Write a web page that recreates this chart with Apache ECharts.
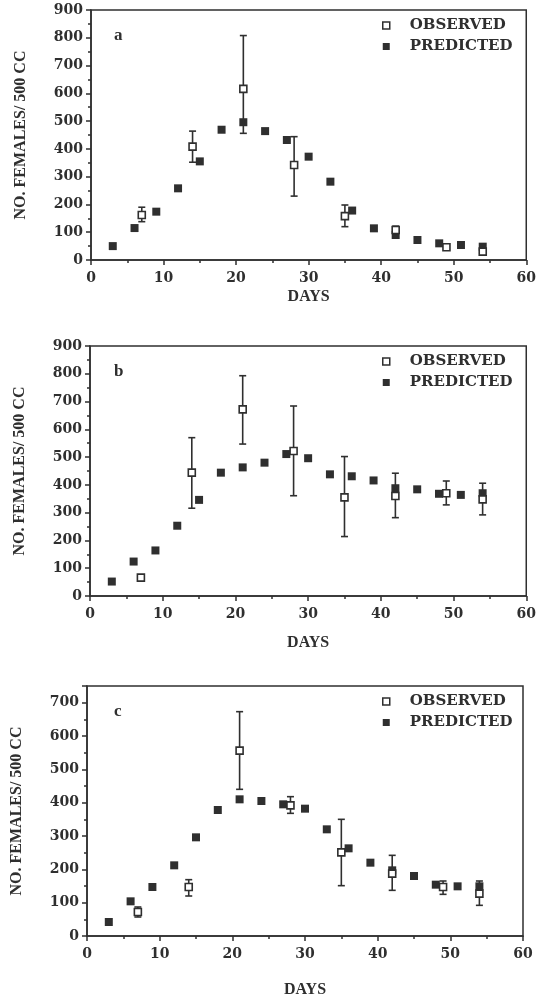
<!DOCTYPE html>
<html>
<head>
<meta charset="utf-8">
<script src="https://cdn.jsdelivr.net/npm/echarts@6/dist/echarts.min.js"></script>
<style>
  html, body { margin: 0; padding: 0; background: #fff; }
  #chart { width: 539px; height: 1003px; }
</style>
</head>
<body>
<div id="chart"></div>
<script>
// model days (predicted) and sampling days (observed)
const predDays = [3, 6, 9, 12, 15, 18, 21, 24, 27, 30, 33, 36, 39, 42, 45, 48, 51, 54];
const obsDays = [7, 14, 21, 28, 35, 42, 49, 54];

// panel a
const predA = [50, 115, 174, 258, 355, 469, 496, 464, 432, 372, 282, 178, 114, 90, 72, 60, 54, 48];
const obsA = [162, 408, 616, 342, 158, 108, 46, 30];
const lowA = [138, 352, 456, 230, 120, 95, null, null];
const highA = [190, 464, 808, 444, 198, 122, null, null];

// panel b
const predB = [52, 124, 164, 253, 346, 444, 463, 480, 511, 496, 438, 431, 416, 388, 384, 368, 364, 370];
const obsB = [66, 444, 672, 522, 355, 360, 370, 348];
const lowB = [null, 316, 547, 361, 214, 282, 328, 292];
const highB = [null, 570, 793, 684, 502, 442, 414, 406];

// panel c
const predC = [42, 104, 147, 212, 296, 378, 410, 405, 395, 382, 320, 263, 220, 197, 180, 154, 149, 149];
const obsC = [72, 147, 556, 392, 251, 187, 147, 127];
const lowC = [57, 120, 440, 368, 151, 137, 125, 92];
const highC = [87, 169, 673, 418, 350, 242, 165, 165];

const panelLabels = ['a', 'b', 'c'];
const yMax = [900, 900, 750];

const ink = '#2f2f2f';
const tickFont = { fontFamily: 'DejaVu Serif', fontWeight: 'bold', fontSize: 14, color: ink };

const grids = [
  { left: 91, top: 10, right: 12, height: 250 },
  { left: 90, top: 346, right: 12, height: 250 },
  { left: 87, top: 686, right: 16, height: 250 }
];
const daysGap = [29, 39, 46];

const panels = [
  { pred: predA, obs: obsA, low: lowA, high: highA },
  { pred: predB, obs: obsB, low: lowB, high: highB },
  { pred: predC, obs: obsC, low: lowC, high: highC }
];

const pairs = (xs, ys) => xs.map((x, i) => [x, ys[i]]);

const errRender = (params, api) => {
  const x = api.value(0);
  const lo = api.coord([x, api.value(1)]);
  const hi = api.coord([x, api.value(2)]);
  const cap = 3.5;
  const style = { stroke: ink, lineWidth: 1.6 };
  return {
    type: 'group',
    children: [
      { type: 'line', shape: { x1: lo[0], y1: lo[1], x2: hi[0], y2: hi[1] }, style },
      { type: 'line', shape: { x1: lo[0] - cap, y1: lo[1], x2: lo[0] + cap, y2: lo[1] }, style },
      { type: 'line', shape: { x1: hi[0] - cap, y1: hi[1], x2: hi[0] + cap, y2: hi[1] }, style }
    ]
  };
};

const option = {
  backgroundColor: '#fff',
  animation: false,
  grid: grids.map(g => ({ ...g, show: true, borderColor: ink, borderWidth: 1.5, backgroundColor: 'transparent' })),
  xAxis: grids.map((g, i) => ({
    gridIndex: i,
    type: 'value',
    min: 0,
    max: 60,
    interval: 10,
    name: 'DAYS',
    nameLocation: 'middle',
    nameGap: daysGap[i],
    nameTextStyle: { fontFamily: 'Liberation Serif', fontWeight: 'bold', fontSize: 16, color: ink },
    axisLine: { lineStyle: { color: ink, width: 1.5 } },
    axisTick: { inside: false, length: 5, lineStyle: { color: ink, width: 1.5 } },
    minorTick: { show: true, splitNumber: 2, length: 3, lineStyle: { color: ink, width: 1.5 } },
    splitLine: { show: false },
    axisLabel: { ...tickFont, margin: 11 }
  })),
  yAxis: grids.map((g, i) => ({
    gridIndex: i,
    type: 'value',
    min: 0,
    max: yMax[i],
    interval: 100,
    name: 'NO. FEMALES/ 500 CC',
    nameLocation: 'middle',
    nameGap: 62,
    nameTextStyle: { fontFamily: 'Liberation Serif', fontWeight: 'bold', fontSize: 16, color: ink },
    axisLine: { lineStyle: { color: ink, width: 1.5 } },
    axisTick: { inside: false, length: 5, lineStyle: { color: ink, width: 1.5 } },
    minorTick: { show: true, splitNumber: 2, length: 3, lineStyle: { color: ink, width: 1.5 } },
    splitLine: { show: false },
    axisLabel: { ...tickFont, margin: 8, showMaxLabel: yMax[i] % 100 === 0 }
  })),
  legend: grids.map(g => ({
    orient: 'vertical',
    left: 377,
    top: g.top + 3,
    itemWidth: 7,
    itemHeight: 7,
    itemGap: 6,
    icon: 'rect',
    data: [
      { name: 'OBSERVED', itemStyle: { color: '#fff', borderColor: ink, borderWidth: 1.5 } },
      { name: 'PREDICTED', itemStyle: { color: ink, borderWidth: 0 } }
    ],
    textStyle: { fontFamily: 'DejaVu Serif', fontWeight: 'bold', fontSize: 15, color: ink, padding: [0, 0, 0, 15] }
  })),
  graphic: grids.map((g, i) => ({
    type: 'text',
    left: 114,
    top: g.top + 17,
    style: { text: panelLabels[i], fontFamily: 'Liberation Serif', fontWeight: 'bold', fontSize: 17, fill: ink }
  })),
  series: []
};

panels.forEach((p, i) => {
  option.series.push({
    name: 'PREDICTED',
    type: 'scatter',
    xAxisIndex: i,
    yAxisIndex: i,
    symbol: 'rect',
    symbolSize: 8,
    itemStyle: { color: ink, opacity: 1 },
    data: pairs(predDays, p.pred),
    z: 2
  });
  option.series.push({
    name: 'OBSERVED error',
    type: 'custom',
    xAxisIndex: i,
    yAxisIndex: i,
    renderItem: errRender,
    data: obsDays.map((d, k) => [d, p.low[k], p.high[k]]).filter(r => r[1] != null),
    z: 3
  });
  option.series.push({
    name: 'OBSERVED',
    type: 'scatter',
    xAxisIndex: i,
    yAxisIndex: i,
    symbol: 'rect',
    symbolSize: 7,
    itemStyle: { color: '#fff', borderColor: ink, borderWidth: 1.6, opacity: 1 },
    data: pairs(obsDays, p.obs),
    z: 4
  });
});

const chart = echarts.init(document.getElementById('chart'), null, { renderer: 'canvas' });
chart.setOption(option);
</script>
</body>
</html>
